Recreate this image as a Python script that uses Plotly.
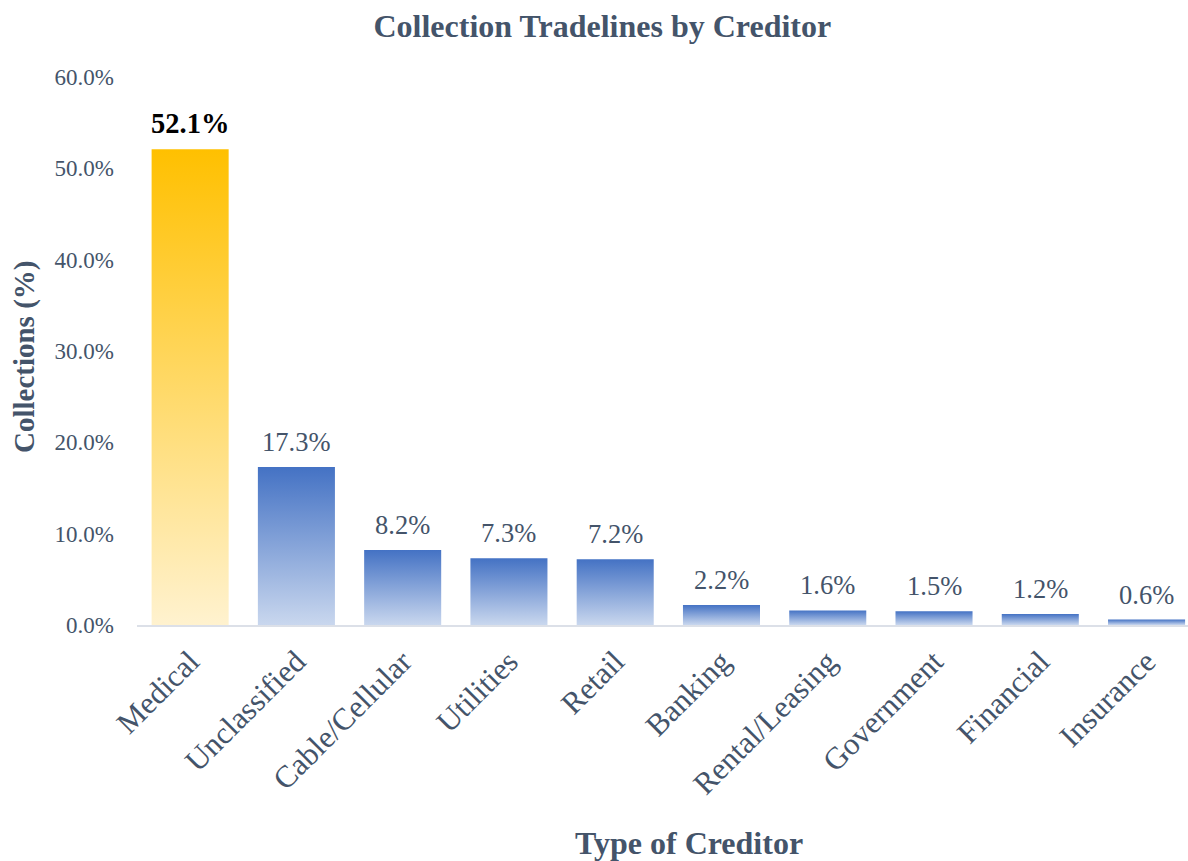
import plotly.graph_objects as go

categories = ["Medical", "Unclassified", "Cable/Cellular", "Utilities", "Retail",
              "Banking", "Rental/Leasing", "Government", "Financial", "Insurance"]
values = [52.1, 17.3, 8.2, 7.3, 7.2, 2.2, 1.6, 1.5, 1.2, 0.6]
y_ticks = [0, 10, 20, 30, 40, 50, 60]

FONT = "Liberation Serif, Times New Roman, serif"
SLATE = "#44546A"
GOLD = "rgb(255, 192, 0)"
BLUE = "rgb(68, 114, 196)"

colors = [GOLD if i == 0 else BLUE for i in range(len(values))]

fig = go.Figure(go.Bar(
    x=categories, y=values,
    marker=dict(color=colors, line=dict(width=0)),
    hoverinfo="x+y",
))

label_annots = []
for i, (c, v) in enumerate(zip(categories, values)):
    if i == 0:
        label_annots.append(dict(x=c, y=v, xref="x", yref="y", text="<b>%.1f%%</b>" % v,
                                 showarrow=False, yanchor="bottom", yshift=8,
                                 font=dict(size=28.5, color="#000000", family=FONT)))
    else:
        label_annots.append(dict(x=c, y=v, xref="x", yref="y", text="%.1f%%" % v,
                                 showarrow=False, yanchor="bottom", yshift=8,
                                 font=dict(size=26.5, color=SLATE, family=FONT)))

fig.update_layout(
    width=1188, height=861,
    margin=dict(l=137, r=0, t=77, b=236),
    paper_bgcolor="white", plot_bgcolor="white",
    bargap=0.275,
    showlegend=False,
    font=dict(family=FONT, color=SLATE),
    title=dict(text="<b>Collection Tradelines by Creditor</b>", x=0.507, xanchor="center",
               y=0.97, yanchor="middle", font=dict(size=32, color=SLATE, family=FONT)),
    annotations=label_annots + [
        dict(text="<b>Type of Creditor</b>", xref="paper", yref="paper", x=0.525, y=-0.398,
             xanchor="center", yanchor="middle", showarrow=False,
             font=dict(size=32, color=SLATE, family=FONT)),
        dict(text="<b>Collections (%)</b>", xref="paper", yref="paper", x=-0.107, y=0.49,
             xanchor="center", yanchor="middle", showarrow=False, textangle=-90,
             font=dict(size=29, color=SLATE, family=FONT)),
    ],
)
fig.update_xaxes(
    range=[-0.5, 9.39], showgrid=False, showline=True, linecolor="#DCE0E8", linewidth=2,
    tickangle=-45, tickfont=dict(size=31, color=SLATE, family=FONT), ticks="",
    ticklabelstandoff=4,
)
fig.update_yaxes(
    range=[0, 60], tickvals=y_ticks, ticktext=["%.1f%%" % t for t in y_ticks],
    showgrid=False, zeroline=False, showline=False,
    tickfont=dict(size=23, color=SLATE, family=FONT), ticks="", ticklabelstandoff=22,
)

post = """
var gd = document.getElementById('{plot_id}');
function addGrad(defs, id, top, bot){
  if (defs.querySelector('#' + id)) return;
  var ns = 'http://www.w3.org/2000/svg';
  var g = document.createElementNS(ns, 'linearGradient');
  g.setAttribute('id', id); g.setAttribute('x1','0'); g.setAttribute('y1','0');
  g.setAttribute('x2','0'); g.setAttribute('y2','1');
  var s1 = document.createElementNS(ns, 'stop'); s1.setAttribute('offset','0'); s1.setAttribute('stop-color', top);
  var s2 = document.createElementNS(ns, 'stop'); s2.setAttribute('offset','1'); s2.setAttribute('stop-color', bot);
  g.appendChild(s1); g.appendChild(s2); defs.appendChild(g);
}
function applyGrad(){
  var svg = gd.querySelector('svg.main-svg');
  if (!svg) return;
  var defs = svg.querySelector('defs');
  if (!defs) { defs = document.createElementNS('http://www.w3.org/2000/svg','defs'); svg.insertBefore(defs, svg.firstChild); }
  addGrad(defs, 'gGold', '#FFC000', '#FFF2CF');
  addGrad(defs, 'gBlue', '#4472C4', '#C9D7EE');
  gd.querySelectorAll('.barlayer .point path').forEach(function(p){
    var f = p.style.fill || '';
    if (f.indexOf('255, 192, 0') >= 0 || f.indexOf('gGold') >= 0) p.style.fill = 'url(#gGold)';
    else p.style.fill = 'url(#gBlue)';
  });
}
applyGrad();
gd.on && gd.on('plotly_afterplot', applyGrad);
"""

fig.write_html("out.html", post_script=post)
